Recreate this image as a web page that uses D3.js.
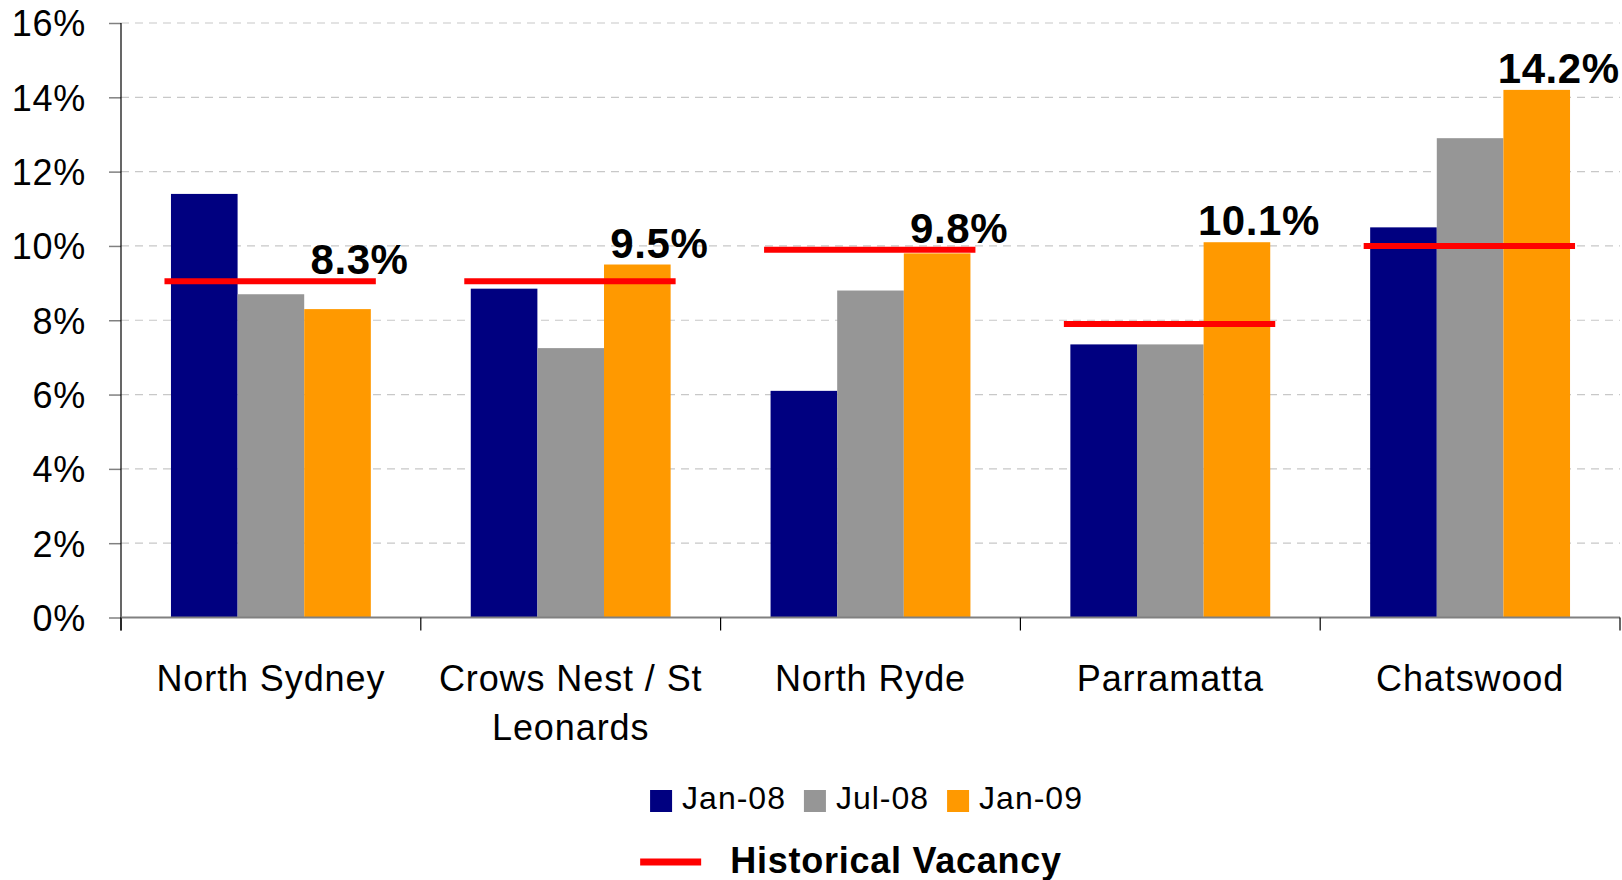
<!DOCTYPE html>
<html>
<head>
<meta charset="utf-8">
<script src="https://cdn.jsdelivr.net/npm/d3@7"></script>
<style>
  html, body { margin: 0; padding: 0; background: #fff; }
  svg { display: block; }
  text { font-family: "Liberation Sans", Arial, sans-serif; fill: #000; }
</style>
</head>
<body>
<svg id="chart" width="1622" height="880"></svg>
<script>
// ---- data ----
const categories = ["North Sydney", "Crows Nest / St Leonards", "North Ryde", "Parramatta", "Chatswood"];
const seriesNames = ["Jan-08", "Jul-08", "Jan-09"];
const jan08 = [11.4, 8.85, 6.1, 7.35, 10.5];
const jul08 = [8.7, 7.25, 8.8, 7.35, 12.9];
const jan09 = [8.3, 9.5, 9.8, 10.1, 14.2];
const historical = [9.05, 9.05, 9.9, 7.9, 10.0];
const yTicks = [0, 2, 4, 6, 8, 10, 12, 14, 16];
const historicalLabel = "Historical Vacancy";

const seriesValues = [jan08, jul08, jan09];
const colors = ["#000080", "#969696", "#FF9900"];

const svg = d3.select("#chart");
const plot = { left: 121, right: 1620, top: 23, bottom: 617.5 };

const x0 = d3.scaleBand().domain(categories).range([plot.left, plot.right]).padding(0);
const bw = x0.bandwidth();
const x1 = d3.scaleBand().domain(seriesNames).range([bw / 6, bw * 5 / 6]).padding(0);
const y = d3.scaleLinear().domain([0, 16]).range([plot.bottom, plot.top]);

// gridlines
svg.append("g").selectAll("line").data(yTicks.filter(d => d > 0)).join("line")
  .attr("x1", plot.left).attr("x2", plot.right)
  .attr("y1", d => y(d)).attr("y2", d => y(d))
  .attr("stroke", "#c8c8c8").attr("stroke-width", 1.2).attr("stroke-dasharray", "8,6");

// bars
const rows = categories.map((c, i) => ({ cat: c, vals: seriesNames.map((s, j) => ({ s, v: seriesValues[j][i], j })) }));
const groups = svg.append("g").selectAll("g").data(rows).join("g")
  .attr("transform", d => `translate(${x0(d.cat)},0)`);
groups.selectAll("rect").data(d => d.vals).join("rect")
  .attr("x", d => x1(d.s)).attr("width", x1.bandwidth())
  .attr("y", d => y(d.v)).attr("height", d => y(0) - y(d.v))
  .attr("fill", d => colors[d.j]);

// historical lines
svg.append("g").selectAll("line").data(categories).join("line")
  .attr("x1", d => x0(d) + bw * 0.145).attr("x2", d => x0(d) + bw * 0.85)
  .attr("y1", (d, i) => y(historical[i])).attr("y2", (d, i) => y(historical[i]))
  .attr("stroke", "#FF0000").attr("stroke-width", 6);

// value labels for Jan-09
svg.append("g").selectAll("text").data(categories).join("text")
  .attr("x", d => x0(d) + x1("Jan-09") + x1.bandwidth() / 2 + 22)
  .attr("y", (d, i) => Math.min(y(jan09[i]), y(historical[i])) - 7)
  .attr("text-anchor", "middle")
  .attr("font-weight", "bold").attr("font-size", 42).attr("letter-spacing", "0.6px")
  .text((d, i) => d3.format(".1f")(jan09[i]) + "%");

// y axis
const yAxis = d3.axisLeft(y).tickValues(yTicks).tickFormat(d => d + "%").tickSize(12).tickPadding(23);
const gy = svg.append("g").attr("transform", `translate(${plot.left},0)`).call(yAxis);
gy.select(".domain").remove();
gy.selectAll(".tick line").attr("stroke", "#808080").attr("stroke-width", 1.5);
gy.selectAll(".tick text").attr("font-size", 36).attr("letter-spacing", "0.7px")
  .attr("font-family", "Liberation Sans, Arial, sans-serif").attr("dy", "0.36em");
svg.append("line").attr("x1", plot.left).attr("x2", plot.left)
  .attr("y1", plot.top).attr("y2", plot.bottom + 13).attr("stroke", "#000").attr("stroke-width", 1.2);

// x axis
svg.append("line").attr("x1", plot.left).attr("x2", plot.right)
  .attr("y1", plot.bottom).attr("y2", plot.bottom).attr("stroke", "#808080").attr("stroke-width", 2);
const boundaries = categories.map(c => x0(c)).concat([plot.right]);
svg.append("g").selectAll("line").data(boundaries).join("line")
  .attr("x1", d => d).attr("x2", d => d)
  .attr("y1", plot.bottom).attr("y2", plot.bottom + 13)
  .attr("stroke", "#000").attr("stroke-width", 1.2);

// category labels with wrapping
const catG = svg.append("g");
categories.forEach(c => {
  const t = catG.append("text").attr("x", x0(c) + bw / 2).attr("y", 691)
    .attr("text-anchor", "middle").attr("font-size", 36).attr("letter-spacing", "0.9px");
  const words = c.split(" ");
  let line = [];
  let ts = t.append("tspan").attr("x", x0(c) + bw / 2).attr("dy", 0);
  words.forEach(w => {
    line.push(w);
    ts.text(line.join(" "));
    if (ts.node().getComputedTextLength() > bw - 10 && line.length > 1) {
      line.pop();
      ts.text(line.join(" "));
      line = [w];
      ts = t.append("tspan").attr("x", x0(c) + bw / 2).attr("dy", 49).text(w);
    }
  });
});

// legend (series)
const legCenter = (plot.left + plot.right) / 2 - 4;
const leg = svg.append("g");
let cx = 0;
seriesNames.forEach((s, i) => {
  leg.append("rect").attr("x", cx).attr("y", 790).attr("width", 22).attr("height", 22).attr("fill", colors[i]);
  const t = leg.append("text").attr("x", cx + 32).attr("y", 809).attr("font-size", 32)
    .attr("letter-spacing", "1px").text(s);
  cx += 32 + t.node().getComputedTextLength() + 18;
});
const legW = cx - 18;
leg.attr("transform", `translate(${legCenter - legW / 2},0)`);

// legend (historical)
const leg2 = svg.append("g");
leg2.append("line").attr("x1", 0).attr("x2", 61).attr("y1", 862).attr("y2", 862)
  .attr("stroke", "#FF0000").attr("stroke-width", 7);
const ht = leg2.append("text").attr("x", 90).attr("y", 873).attr("font-size", 36)
  .attr("font-weight", "bold").attr("letter-spacing", "0.75px").text(historicalLabel);
const leg2W = 90 + ht.node().getComputedTextLength();
leg2.attr("transform", `translate(${851 - leg2W / 2},0)`);
</script>
</body>
</html>
